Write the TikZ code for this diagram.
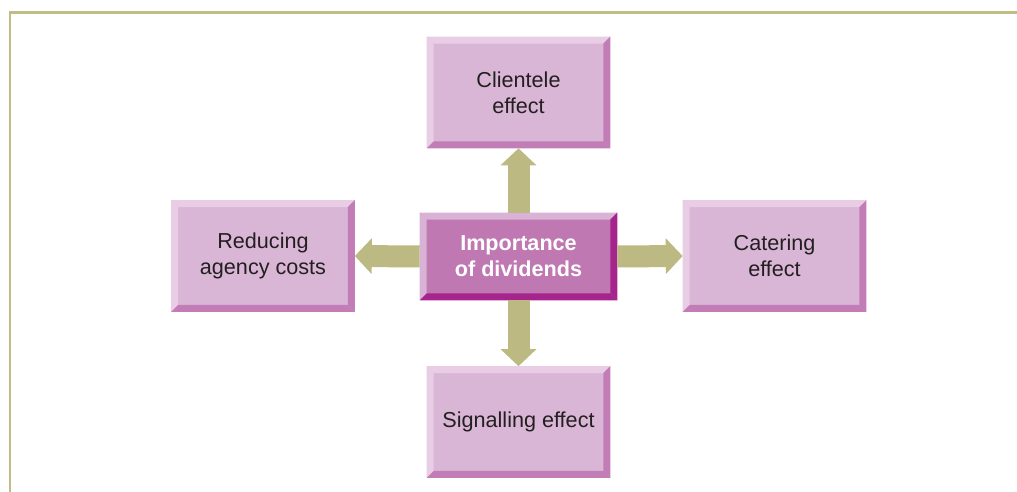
\documentclass[tikz,border=0pt]{standalone}
\usepackage{fontspec}
\setmainfont{Liberation Sans}
\usetikzlibrary{arrows.meta,calc}

\definecolor{boxfill}{HTML}{DAB6D6}
\definecolor{boxlight}{HTML}{E8CDE5}
\definecolor{boxdark}{HTML}{C27DB7}
\definecolor{keyfill}{HTML}{BF78B2}
\definecolor{keylight}{HTML}{D9B3D5}
\definecolor{keydark}{HTML}{A6258D}
\definecolor{olive}{HTML}{BCB982}
\definecolor{framecol}{HTML}{C2BC85}
\definecolor{ink}{HTML}{231F20}

% raised edges round a named box: #1 node, #2 top/left colour, #3 right/bottom colour
\newcommand{\bevel}[3]{%
  \fill[#2] (#1.north west) -- (#1.north east) -- ++(-0.14cm,-0.14cm)
    -- ($(#1.north west)+(0.14cm,-0.14cm)$) -- cycle;
  \fill[#2] (#1.north west) -- (#1.south west) -- ++(0.14cm,0.14cm)
    -- ($(#1.north west)+(0.14cm,-0.14cm)$) -- cycle;
  \fill[#3] (#1.north east) -- (#1.south east) -- ++(-0.14cm,0.14cm)
    -- ($(#1.north east)+(-0.14cm,-0.14cm)$) -- cycle;
  \fill[#3] (#1.south west) -- (#1.south east) -- ++(-0.14cm,0.14cm)
    -- ($(#1.south west)+(0.14cm,0.14cm)$) -- cycle;
}

\begin{document}
\begin{tikzpicture}[x=0.02cm,y=-0.02cm,
  effect/.style={fill=boxfill,text=ink,align=center,inner sep=0pt,
    minimum width=3.66cm,minimum height=2.22cm,
    font=\fontsize{12.3}{14.8}\selectfont},
  keybox/.style={fill=keyfill,text=white,align=center,inner sep=0pt,
    minimum width=3.94cm,minimum height=1.74cm,
    font=\fontsize{12.3}{14.6}\selectfont\bfseries},
  bigarrow/.style={draw=olive,line width=0.44cm,
    -{Triangle[width=0.7cm,length=0.34cm]}}]
\useasboundingbox (0,0) rectangle (1017,492);
\draw[framecol,line width=0.06cm] (10,492) -- (10,13) -- (1017,13);

\node[keybox] (imp) at (518.5,256.5) {Importance\\of dividends};
\node[effect] (cli) at (518.5,92.5) {Clientele\\effect};
\node[effect] (red) at (263,256) {Reducing\\agency costs};
\node[effect] (cat) at (774.5,256) {Catering\\effect};
\node[effect] (sig) at (518.5,422) {Signalling effect};

\bevel{imp}{keylight}{keydark}
\bevel{cli}{boxlight}{boxdark}
\bevel{red}{boxlight}{boxdark}
\bevel{cat}{boxlight}{boxdark}
\bevel{sig}{boxlight}{boxdark}

\draw[bigarrow] (imp.north) -- (cli.south);
\draw[bigarrow] (imp.south) -- (sig.north);
\draw[bigarrow] (imp.west) -- (red.east);
\draw[bigarrow] (imp.east) -- (cat.west);
\end{tikzpicture}
\end{document}
